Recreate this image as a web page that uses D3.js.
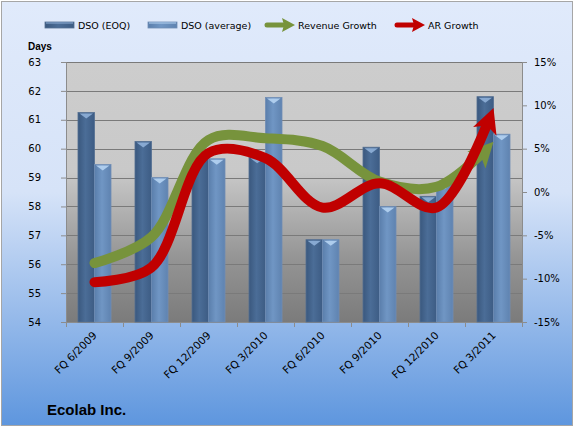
<!DOCTYPE html>
<html><head><meta charset="utf-8">
<script src="https://cdn.jsdelivr.net/npm/d3@7"></script>
<style>body{margin:0;padding:0;overflow:hidden;background:#fff}</style>
</head><body>
<script>
const categories = ["FQ 6/2009","FQ 9/2009","FQ 12/2009","FQ 3/2010","FQ 6/2010","FQ 9/2010","FQ 12/2010","FQ 3/2011"];
const dsoEOQ = [61.25, 60.25, 59.85, 59.7, 56.85, 60.05, 58.35, 61.8];
const dsoAvg = [59.45, 59.0, 59.65, 61.77, 56.85, 58.0, 58.8, 60.5];
const revenueGrowth = [-0.082, -0.052, 0.060, 0.062, 0.053, 0.012, 0.006, 0.058];
const arGrowth = [-0.104, -0.087, 0.045, 0.039, -0.018, 0.010, -0.018, 0.097];
const leftTicks = [54,55,56,57,58,59,60,61,62,63];
const rightTicks = [-0.15,-0.10,-0.05,0,0.05,0.10,0.15];
const legendItems = ["DSO (EOQ)","DSO (average)","Revenue Growth","AR Growth"];
const title = "Ecolab Inc.";
const yTitle = "Days";

(function(){
const W = 575, H = 427;
const svg = d3.select("body").append("svg").attr("width", W).attr("height", H);
const defs = svg.append("defs");

const bg = defs.append("linearGradient").attr("id","bg").attr("x1",0).attr("y1",0).attr("x2",0).attr("y2",1);
bg.append("stop").attr("offset","0%").attr("stop-color","#e0eafb");
bg.append("stop").attr("offset","45%").attr("stop-color","#d6e3f8");
bg.append("stop").attr("offset","100%").attr("stop-color","#5e96de");
const pg = defs.append("linearGradient").attr("id","pg").attr("x1",0).attr("y1",0).attr("x2",0).attr("y2",1);
pg.append("stop").attr("offset","0%").attr("stop-color","#cdcdcd");
pg.append("stop").attr("offset","42%").attr("stop-color","#c9c9c9");
pg.append("stop").attr("offset","75%").attr("stop-color","#959595");
pg.append("stop").attr("offset","100%").attr("stop-color","#7b7b7b");
function barGrad(id, c1, c2, c3){
  const g = defs.append("linearGradient").attr("id",id).attr("x1",0).attr("y1",0).attr("x2",1).attr("y2",0);
  g.append("stop").attr("offset","0%").attr("stop-color",c1);
  g.append("stop").attr("offset","45%").attr("stop-color",c2);
  g.append("stop").attr("offset","100%").attr("stop-color",c3);
}
barGrad("gEOQ","#3a587e","#4b6d97","#3d5c84");
barGrad("gAvg","#5a7eab","#7096c4","#5f83b0");

svg.append("rect").attr("x",1.5).attr("y",1.5).attr("width",W-4).attr("height",H-3)
  .attr("fill","url(#bg)").attr("stroke","#a6a6a6").attr("stroke-width",1);

const pL = 66, pR = 522, pT = 62, pB = 322;
const x = d3.scaleBand().domain(categories).range([pL,pR]).paddingInner(0).paddingOuter(0);
const x1 = d3.scaleBand().domain(["eoq","avg"]).range([0,x.bandwidth()]).paddingInner(0).paddingOuter(0.727);
const yL = d3.scaleLinear().domain([54,63]).range([pB,pT]);
const yR = d3.scaleLinear().domain([-0.15,0.15]).range([pB,pT]);

svg.append("rect").attr("x",pL).attr("y",pT).attr("width",pR-pL).attr("height",pB-pT).attr("fill","url(#pg)");

svg.append("g").selectAll("line").data(leftTicks.slice(1)).join("line")
  .attr("x1",pL).attr("x2",pR).attr("y1",d=>Math.round(yL(d))+0.5).attr("y2",d=>Math.round(yL(d))+0.5)
  .attr("stroke","#7a7a7a").attr("stroke-width",1);

const axL = svg.append("g").attr("transform",`translate(${pL},0)`)
  .call(d3.axisLeft(yL).tickValues(leftTicks).tickSize(5).tickPadding(20).tickFormat(d3.format("d")));
const axR = svg.append("g").attr("transform",`translate(${pR},0)`)
  .call(d3.axisRight(yR).tickValues(rightTicks).tickSize(5).tickPadding(7).tickFormat(d3.format(".0%")));
const axB = svg.append("g").attr("transform",`translate(0,${pB})`)
  .call(d3.axisBottom(x).tickSize(0).tickFormat(""));
[axL,axR,axB].forEach(a=>{
  a.select(".domain").attr("stroke","#8c8c8c");
  a.selectAll(".tick line").attr("stroke","#8c8c8c");
  a.selectAll("text").attr("font-family","DejaVu Sans").attr("font-size","10px").attr("fill","#000");
});
axR.selectAll("text").text(d=> d3.format(".0%")(d).replace("−","-"));
svg.append("g").selectAll("line").data(categories.concat([null])).join("line")
  .attr("x1",(d,i)=> pL + i*x.step()+0.5).attr("x2",(d,i)=> pL + i*x.step()+0.5)
  .attr("y1",pB).attr("y2",pB+5).attr("stroke","#8c8c8c");

svg.append("g").selectAll("text").data(categories).join("text")
  .attr("transform",d=>`translate(${x(d)+x.bandwidth()/2+3},${pB+14}) rotate(-45)`)
  .attr("text-anchor","end").attr("font-family","DejaVu Sans").attr("font-size","10.5px").attr("fill","#000")
  .text(d=>d);

const barData = [];
categories.forEach((c,i)=>{
  barData.push({c, k:"eoq", v:dsoEOQ[i]});
  barData.push({c, k:"avg", v:dsoAvg[i]});
});
const bars = svg.append("g");
bars.selectAll("rect").data(barData).join("rect")
  .attr("x",d=>x(d.c)+x1(d.k)).attr("width",x1.bandwidth())
  .attr("y",d=>yL(d.v)).attr("height",d=>pB-yL(d.v))
  .attr("fill",d=>d.k==="eoq"?"url(#gEOQ)":"url(#gAvg)")
  .attr("stroke",d=>d.k==="eoq"?"#546f92":"#6f8db5").attr("stroke-width",0.8);
bars.selectAll("path").data(barData).join("path")
  .attr("d",d=>{
    const x0 = x(d.c)+x1(d.k), w = x1.bandwidth(), y0 = yL(d.v);
    return `M${x0+1.5},${y0+1} L${x0+w-1.5},${y0+1} L${x0+w/2},${y0+6} Z`;
  })
  .attr("fill",d=>d.k==="eoq"?"#8fb0d8":"#b5d3f2").attr("opacity",0.9);

function arrowMarker(id,color){
  defs.append("marker").attr("id",id).attr("viewBox","0 0 10 10").attr("refX",10).attr("refY",5)
    .attr("markerUnits","userSpaceOnUse").attr("markerWidth",25).attr("markerHeight",25).attr("orient","auto")
    .append("path").attr("d","M0,0 L10,5 L0,10 L2.5,5 Z").attr("fill",color);
}
arrowMarker("mG","#77933c");
arrowMarker("mR","#c00000");
const cx = d => x(d)+x.bandwidth()/2;
const line = d3.line().curve(d3.curveCatmullRom.alpha(0.5));
function drawLine(vals,color,mid){
  const pts = categories.map((c,i)=>[cx(c), yR(vals[i])]);
  const p = svg.append("path").attr("d",line(pts)).attr("fill","none")
    .attr("stroke",color).attr("stroke-width",10).attr("stroke-linecap","round")
    .attr("marker-end",`url(#${mid})`);
  const L = p.node().getTotalLength();
  p.attr("stroke-dasharray",`${L-14},2000`);
}
drawLine(revenueGrowth,"#77933c","mG");
drawLine(arGrowth,"#c00000","mR");

const lg = svg.append("g").attr("font-family","DejaVu Sans").attr("font-size","9.5px");
const legX = [45,148,265,395];
const legC = ["url(#gEOQ)","url(#gAvg)","#77933c","#c00000"];
legendItems.forEach((t,i)=>{
  const g = lg.append("g").attr("transform",`translate(${legX[i]},25)`);
  if(i<2){
    g.append("rect").attr("x",0).attr("y",-3).attr("width",29).attr("height",6)
      .attr("fill",legC[i]).attr("stroke",i===0?"#546f92":"#6f8db5").attr("stroke-width",0.8);
    g.append("line").attr("x1",1).attr("x2",28).attr("y1",-2).attr("y2",-2).attr("stroke",i===0?"#8fb0d8":"#b5d3f2");
  } else {
    g.append("line").attr("x1",2).attr("x2",20).attr("y1",0).attr("y2",0)
      .attr("stroke",legC[i]).attr("stroke-width",5).attr("stroke-linecap","round");
    g.append("path").attr("d","M17,-7 L30,0 L17,7 L19,0 Z").attr("fill",legC[i]);
  }
  g.append("text").attr("x",33).attr("y",4).attr("fill","#000").text(t);
});

svg.append("text").attr("x",28).attr("y",50).attr("font-family","Liberation Sans").attr("font-weight","bold")
  .attr("font-size","10px").attr("fill","#000").text(yTitle);
svg.append("text").attr("x",47).attr("y",415).attr("font-family","Liberation Sans").attr("font-weight","bold")
  .attr("font-size","15px").attr("fill","#000").text(title);
})();
</script>
</body></html>
